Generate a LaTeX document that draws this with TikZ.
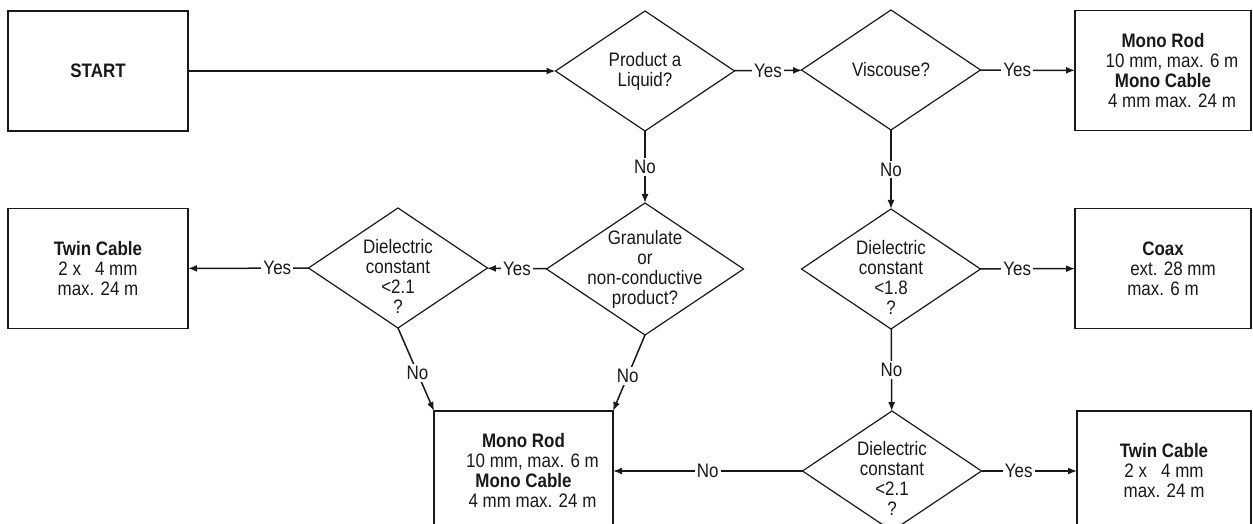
\documentclass[tikz,border=0pt]{standalone}
\usepackage{fontspec}
\setmainfont{Liberation Sans}[FakeStretch=0.87]
\usetikzlibrary{shapes.geometric,arrows.meta}
\definecolor{ink}{rgb}{0.1,0.1,0.1}

\begin{document}
\begin{tikzpicture}[x=1pt, y=-1pt, ink, font=\fontsize{19.5}{20}\selectfont,
    box/.style={draw=ink, line width=1.6pt, minimum width=180pt, minimum height=120pt, align=center, inner sep=0pt, outer sep=0pt},
    ask/.style={diamond, draw=ink, line width=1.2pt, minimum width=179pt, minimum height=120pt, inner sep=0pt, outer sep=0pt},
    flow/.style={line width=1.5pt, -{Latex[length=9pt,width=7pt]}},
    tag/.style={fill=white, inner sep=2pt}]
        \clip (0,0) rectangle (1253,524);

        \node[box] (start) at (98,71) {\textbf{START}};
        \node[box] (twinleft) at (98,268.5) {\textbf{Twin Cable}\\2 x\hspace{14pt}4 mm\\max. 24 m};
        \node[box, minimum width=176pt] (rodtop) at (1163,70.5) {\textbf{Mono Rod}\\\hspace*{18pt}10 mm, max. 6 m\\\textbf{Mono Cable}\\\hspace*{18pt}4 mm max. 24 m};
        \node[box, minimum width=176pt] (coax) at (1163,268.5) {\textbf{Coax}\\\hspace*{20pt}ext. 28 mm\\max. 6 m};
        \node[box, minimum width=174pt] (twinright) at (1164,471) {\textbf{Twin Cable}\\2 x\hspace{14pt}4 mm\\max. 24 m};
        \node[box, minimum width=179pt] (rodbot) at (523.5,471) {\textbf{Mono Rod}\\\hspace*{18pt}10 mm, max. 6 m\\\textbf{Mono Cable}\\\hspace*{18pt}4 mm max. 24 m};

        \node[ask, label={[align=center]center:{Product a\\Liquid?}}] (liquid) at (645,71) {};
        \node[ask, label={[align=center]center:{Viscouse?}}] (visc) at (891,70) {};
        \node[ask, minimum width=197pt, minimum height=132pt, label={[align=center]center:{Granulate\\or\\non-conductive\\product?}}] (gran) at (645,269) {};
        \node[ask, label={[align=center, yshift=-8pt]center:{Dielectric\\constant\\<2.1\\?}}] (dieleft) at (398,268) {};
        \node[ask, label={[align=center, yshift=-8pt]center:{Dielectric\\constant\\<1.8\\?}}] (diemid) at (891,269) {};
        \node[ask, label={[align=center, yshift=-7pt]center:{Dielectric\\constant\\<2.1\\?}}] (dielow) at (892,471) {};

        \draw[flow] (start) -- (liquid);
        \draw[flow] (liquid) -- node[tag] {Yes} (visc);
        \draw[flow] (visc) -- node[tag, pos=0.39] {Yes} (rodtop);
        \draw[flow] (liquid) -- node[tag] {No} (gran);
        \draw[flow] (gran) -- node[tag] {Yes} (dieleft);
        \draw[flow] (dieleft) -- node[tag, pos=0.26] {Yes} (twinleft);
        \draw[flow] (visc) -- node[tag] {No} (diemid);
        \draw[flow] (diemid) -- node[tag, pos=0.39] {Yes} (coax);
        \draw[flow] (diemid) -- node[tag] {No} (dielow);
        \draw[flow] (dielow) -- node[tag, pos=0.39] {Yes} (twinright);
        \draw[flow] (dielow) -- node[tag, pos=0.5] {No} (rodbot);
        \draw[flow] (dieleft.south) -- node[tag, pos=0.54] {No} (rodbot.north west);
        \draw[flow] (gran.south) -- node[tag, pos=0.54] {No} (rodbot.north east);
\end{tikzpicture}
\end{document}
